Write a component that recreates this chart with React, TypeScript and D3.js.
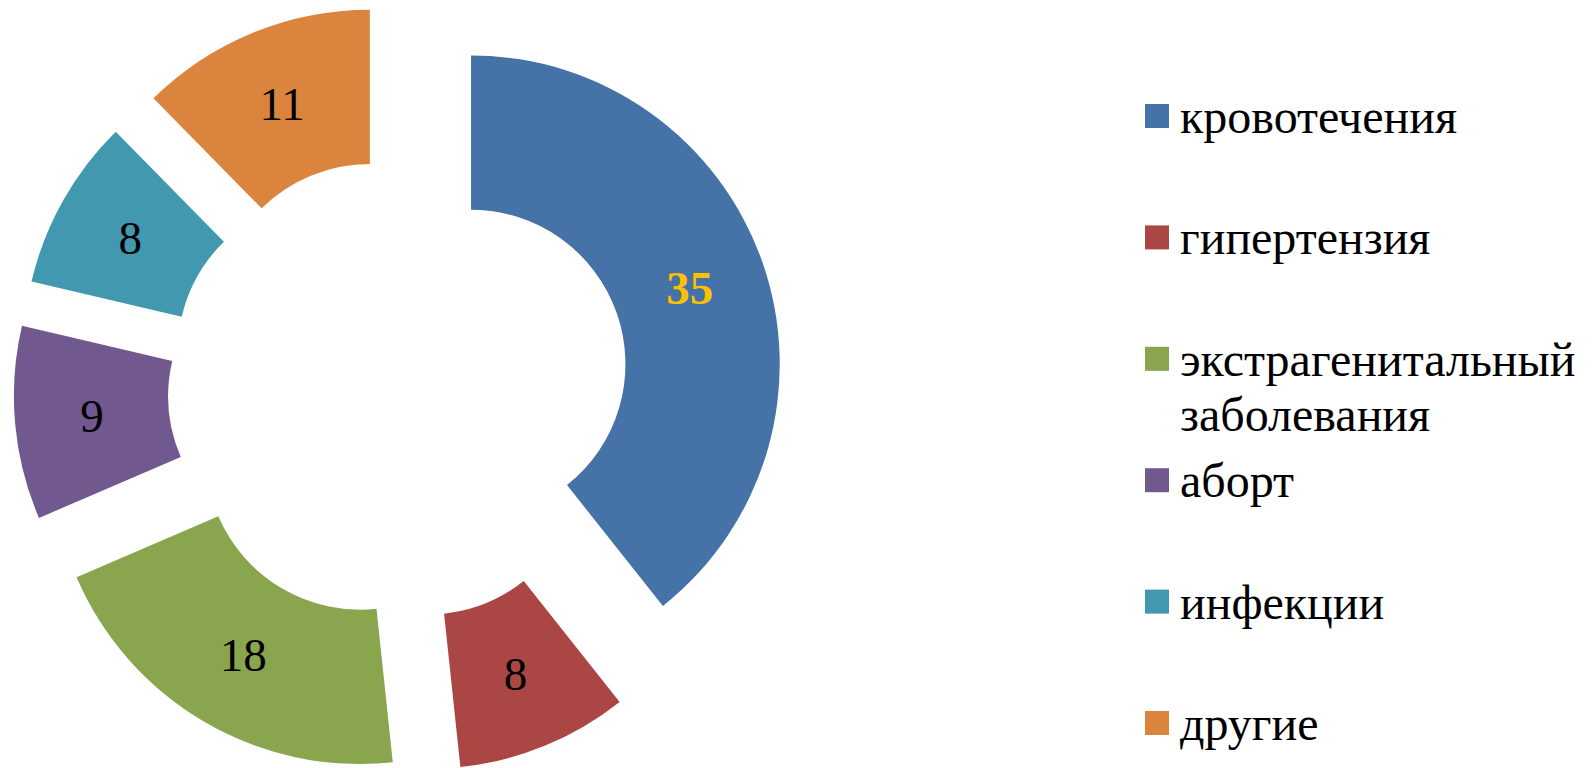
import React from "react";
import * as d3 from "d3";

const categories = [
  "кровотечения",
  "гипертензия",
  "экстрагенитальный заболевания",
  "аборт",
  "инфекции",
  "другие",
];
const values = [35, 8, 18, 9, 8, 11];
const colors = ["#4572A7", "#AA4643", "#89A54E", "#71588F", "#4198AF", "#DB843D"];

const W = 1594;
const H = 768;
const CX = 398.8;
const CY = 389.3;
const R_OUT = 308.7;
const R_IN = 154.4;
const EXPLODE = 76.5;
const FONT = "'Liberation Serif', 'Times New Roman', serif";
const FS = 47;
const LFS = 48;

export default function App() {
  const data = categories.map((c, i) => ({ c, v: values[i], i }));
  const pie = d3
    .pie<any>()
    .value((d) => d.v)
    .sort(null)
    .startAngle(0)
    .endAngle(2 * Math.PI);
  const arcs = pie(data);
  const arc = d3.arc<any>().innerRadius(R_IN).outerRadius(R_OUT);

  const legendTop = 104;
  const legendStep = 121.4;

  return (
    <svg
      width={W}
      height={H}
      style={{ position: "absolute", left: 0, top: 0, background: "#fff" }}
    >
      <g transform={`translate(${CX},${CY})`}>
        {arcs.map((a, k) => {
          const mid = (a.startAngle + a.endAngle) / 2;
          const ox = Math.sin(mid) * EXPLODE;
          const oy = -Math.cos(mid) * EXPLODE;
          const [lx, ly] = arc.centroid(a);
          const isBig = k === 0;
          return (
            <g key={k} transform={`translate(${ox},${oy})`}>
              <path d={arc(a) || ""} fill={colors[k]} />
              <text
                x={lx}
                y={ly + FS * 0.34}
                textAnchor="middle"
                fontFamily={FONT}
                fontSize={FS}
                fontWeight={isBig ? "bold" : "normal"}
                fill={isBig ? "#FFC000" : "#000"}
              >
                {a.data.v}
              </text>
            </g>
          );
        })}
      </g>
      <g>
        {categories.map((c, i) => {
          const top = legendTop + i * legendStep;
          const lines = c.split(" ");
          return (
            <g key={i}>
              <rect x={1145} y={top} width={24} height={24} fill={colors[i]} />
              {lines.map((ln, j) => (
                <text
                  key={j}
                  x={1180}
                  y={top + 29 + j * 55}
                  fontFamily={FONT}
                  fontSize={LFS}
                  fill="#000"
                >
                  {ln}
                </text>
              ))}
            </g>
          );
        })}
      </g>
    </svg>
  );
}
